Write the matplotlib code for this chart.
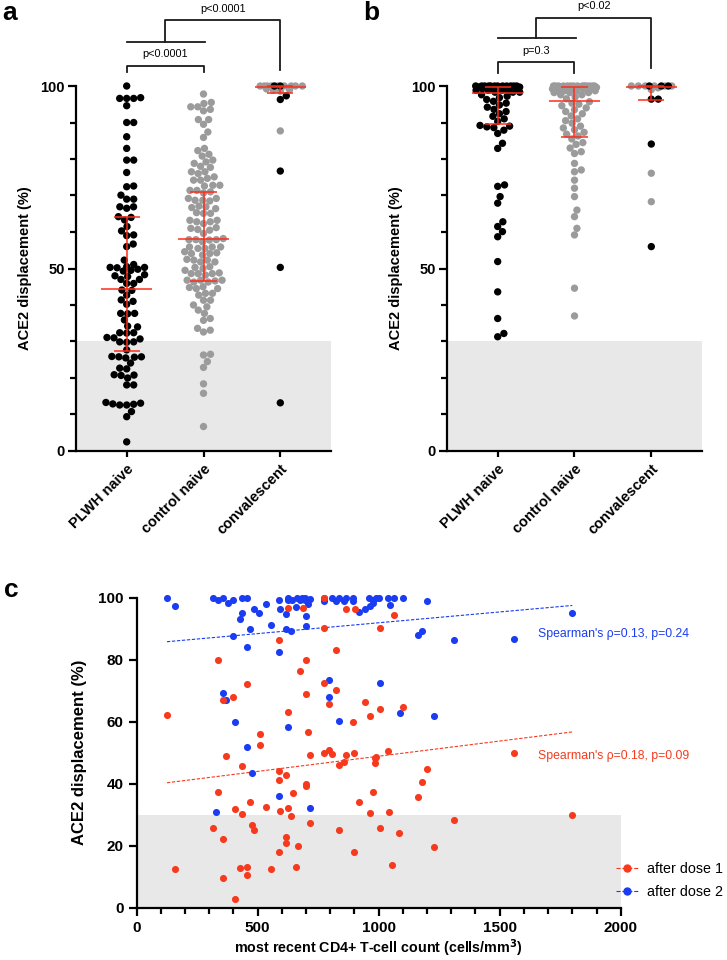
import numpy as np
import matplotlib
matplotlib.use('Agg')
import matplotlib.pyplot as plt
from matplotlib.lines import Line2D

plt.rcParams['font.family'] = ['Liberation Sans', 'DejaVu Sans']

# ---------------- data ----------------
categories = ['PLWH naive', 'control naive', 'convalescent']

# panel a (values in %)
plwh_a = [100, 96.6, 96.6, 96.6, 96.8, 94.6, 90.0, 90.0, 86.1, 82.9, 79.7, 79.7, 76.3, 72.4, 72.6,
          70.1, 69.0, 69.0, 66.9, 66.9, 66.5, 64.2, 64.0, 63.3, 61.5, 60.3, 59.2, 59.0, 56.7, 56.0,
          52.3, 51.1, 50.5, 50.3, 50.3, 50.2, 49.8, 49.5, 49.3, 48.3, 48.0, 47.8, 47.0, 47.0, 45.9,
          45.9, 44.1, 44.0, 42.7, 41.4, 41.0, 40.2, 37.7, 37.7, 37.6, 35.9, 34.2, 34.0, 32.4, 32.4,
          32.3, 31.1, 31.0, 30.7, 29.9, 29.9, 29.8, 27.7, 25.8, 25.5, 25.8, 25.9, 25.7, 24.1, 22.7,
          22.5, 20.8, 20.9, 20.7, 20.0, 18.1, 18.1, 12.9, 12.6, 12.6, 12.8, 13.1, 13.3, 10.8, 9.4, 2.5]
ctrl_a = [97.8, 95.5, 95.2, 94.3, 94.3, 93.2, 93.6, 90.8, 90.8, 89.5, 87.4, 85.9, 82.9, 82.3, 81.3,
          80.8, 79.2, 78.8, 79.7, 77.7, 78.0, 76.5, 76.0, 76.5, 74.7, 74.2, 75.1, 74.2, 72.8, 72.6,
          72.8, 71.0, 70.7, 71.4, 71.4, 68.7, 68.7, 69.2, 69.2, 68.5, 66.9, 66.7, 67.1, 66.4, 65.1,
          65.3, 65.1, 63.2, 62.8, 63.2, 62.8, 62.3, 61.0, 60.7, 61.2, 60.5, 59.6, 57.3, 58.2, 57.9,
          57.9, 57.8, 57.9, 55.9, 55.5, 55.9, 55.9, 55.5, 54.1, 54.3, 54.6, 54.1, 53.7, 52.3, 51.8,
          52.3, 52.5, 51.8, 50.5, 50.0, 50.3, 49.5, 48.6, 48.2, 48.6, 48.8, 48.6, 46.8, 46.6, 46.8,
          46.8, 46.3, 46.3, 45.0, 44.5, 44.8, 44.5, 43.2, 42.7, 43.2, 41.3, 41.3, 40.0, 39.5, 38.6,
          37.7, 36.3, 35.8, 33.6, 32.6, 33.1, 26.5, 26.3, 24.5, 22.9, 18.4, 15.8, 6.7]
conv_a_ctrl = [100.0, 100.0, 100.0, 100.0, 100.0, 100.0, 100.0, 100.0, 100.0, 99.2, 99.0, 98.8, 98.6, 87.7]
conv_a_plwh = [100.0, 100.0, 97.3, 96.3, 76.7, 50.3, 13.2]
# quartiles (Q1, median, Q3)
stats_a = [(27.4, 44.4, 64.2), (46.6, 58.2, 70.9), (98.0, 99.8, 100.0)]

# panel b
plwh_b = [100, 100, 100, 100, 100, 100, 100, 100, 100, 100, 100, 100,
          99.7, 99.7, 99.7, 99.7, 99.7, 99.7, 99.3, 99.3, 99.3, 99.3, 99.3,
          98.8, 98.8, 98.8, 98.8, 98.3, 98.3, 98.3,
          97.6, 97.2, 96.8, 96.3, 95.8, 95.3, 94.8, 94.2, 93.6, 93.0, 92.4, 91.7, 91.0, 90.3,
          89.2, 89.0, 88.8, 88.6, 87.9, 87.0, 84.3, 82.9, 72.9, 72.5, 69.7, 67.9, 62.8, 61.5,
          60.1, 58.7, 51.9, 43.6, 36.3, 32.2, 31.3]
ctrl_b = [100, 100, 100, 100, 100, 100, 100, 100, 100, 100, 100, 100, 100, 100,
          99.6, 99.6, 99.6, 99.6, 99.6, 99.6, 99.2, 99.2, 99.2, 99.2, 99.2,
          98.7, 98.7, 98.7, 98.7, 98.2, 98.2, 98.2, 97.6, 97.6, 97.0, 96.5,
          95.7, 95.3, 95.0, 94.6, 94.0, 93.5, 93.0, 92.4, 91.8, 91.0, 90.5, 89.8, 89.0, 88.5,
          88.0, 87.3, 86.8, 86.3,
          85.5, 84.5, 84.0, 83.0, 82.0, 81.5, 78.8, 77.0, 76.5, 74.2, 72.0, 69.7, 66.0, 64.2,
          61.0, 59.2, 44.6, 37.0]
conv_b_ctrl = [100, 100, 100, 100, 100, 100, 99.5, 99.0, 76.1, 68.3]
conv_b_plwh = [100, 100, 100, 96.4, 96.4, 84.1, 56.0]
stats_b = [(89.5, 98.0, 99.8), (85.9, 96.0, 99.6), (96.2, 99.8, 100.0)]

pvals_a = ['p<0.0001', 'p<0.0001']
pvals_b = ['p=0.3', 'p<0.02']

# panel c: CD4 count (cells/mm3) vs ACE2 displacement (%)
dose1_x = [126, 337, 357, 396, 457, 508, 508, 367, 587, 626, 626, 676, 687, 698, 698, 707, 717,
           776, 776, 776, 796, 824, 824, 865, 904, 893, 945, 966, 1005, 1005, 1065, 863, 896, 796,
           807, 776, 987, 1037, 1101, 1560,
           158, 316, 337, 357, 357, 408, 408, 426, 437, 437, 457, 457, 467, 477, 485, 536, 556, 587,
           587, 587, 591, 615, 615, 615, 626, 636, 646, 657, 666, 698, 698, 717, 835, 858, 835, 896,
           918, 966, 975, 986, 986, 1005, 1044, 1055, 1082, 1200, 1180, 1162, 1310, 1230, 1798]
dose1_y = [62.2, 79.9, 67.0, 68.1, 72.1, 56.1, 52.4, 48.8, 86.2, 96.8, 63.2, 76.2, 96.8, 79.9, 68.9,
           56.6, 49.3, 100.0, 90.2, 72.6, 65.7, 70.3, 83.0, 96.4, 96.4, 59.8, 66.3, 61.7, 64.1, 90.2,
           94.5, 49.3, 50.0, 50.8, 49.6, 49.8, 48.5, 50.4, 64.6, 50.0,
           12.5, 25.6, 37.4, 22.2, 9.5, 31.8, 2.7, 12.9, 30.1, 45.7, 13.2, 10.7, 34.1, 26.7, 25.1,
           32.4, 12.4, 44.0, 41.2, 18.1, 31.2, 42.9, 22.9, 20.8, 32.1, 29.6, 36.9, 13.2, 19.9, 39.9,
           39.4, 27.4, 46.0, 47.1, 25.1, 18.1, 34.2, 30.7, 37.4, 48.2, 46.8, 25.8, 31.0, 13.8, 24.2,
           44.6, 40.7, 35.8, 28.3, 19.7, 29.9]
dose2_x = [126, 158, 316, 337, 357, 378, 398, 437, 457, 426, 437, 396, 467, 457, 485, 505, 536, 556,
           587, 591, 615, 618, 636, 587, 626, 626, 643, 664, 673, 684, 695, 715, 694, 657, 698, 707,
           698, 776, 776, 808, 835, 865, 893, 824, 858, 893, 918, 945, 959, 975, 989, 1003, 966, 975,
           1037, 1046, 1065, 796, 796, 838, 1007, 626, 357, 367, 408, 457, 1101, 1200, 1800, 1162,
           1180, 1310, 1560, 1090, 1230, 477, 327, 587, 717]
dose2_y = [100, 97.4, 100, 99.1, 100, 98.2, 99.1, 100, 100, 93.1, 95.0, 87.5, 89.8, 84.0, 96.4, 95.0,
           98.0, 91.1, 99.1, 96.4, 94.8, 89.8, 89.4, 82.6, 100, 99.1, 99.1, 100, 99.1, 100, 99.1,
           99.6, 100, 97.1, 94.1, 98.0, 90.9, 100, 98.8, 100, 100, 100, 100, 98.8, 98.8, 98.8, 95.5,
           96.4, 100, 99.3, 100, 100, 97.4, 98.2, 100, 97.7, 100, 73.3, 68.1, 60.3, 72.6, 58.4, 69.2,
           67.0, 59.8, 51.7, 100, 98.8, 95.0, 88.0, 89.1, 86.4, 86.8, 62.7, 61.9, 43.6, 31.0, 36.0, 32.1]
fit_x = [125, 1800]
fit_dose1 = [40.3, 56.7]
fit_dose2 = [85.8, 97.5]
spearman_dose1 = "Spearman's \u03c1=0.18, p=0.09"
spearman_dose2 = "Spearman's \u03c1=0.13, p=0.24"
legend_labels = ['after dose 1', 'after dose 2']

# ---------------- style ----------------
RED = '#F73A1D'
BLUE = '#1A3CF2'
GREY = '#9B9B9B'
BAND = '#E8E8E8'
BAR = '#FF2D1A'
DOT_S = 28

fig = plt.figure(figsize=(7.27, 9.6), dpi=100)
W, H = 727.0, 960.0


def swarm_x(ax, xc, vals, d=7.0, maxw=22.0):
    vals = np.asarray(vals, float)
    pts = ax.transData.transform(np.column_stack([np.full(len(vals), xc), vals]))
    ys = pts[:, 1]
    x0 = pts[0, 0]
    order = np.argsort(ys, kind='stable')
    px, py = [], []
    offs = np.zeros(len(vals))
    for i in order:
        y = ys[i]
        PX, PY = np.array(px), np.array(py)
        cands = [0.0]
        if len(PX):
            dy = PY - y
            near = np.abs(dy) < d
            for xx, ddy in zip(PX[near], dy[near]):
                dx = np.sqrt(d * d - ddy * ddy)
                cands += [xx + dx, xx - dx]
        cands = np.array(cands)
        cands = cands[np.argsort(np.abs(cands), kind='stable')]
        chosen = None
        for c in cands:
            if abs(c) > maxw + 1e-9:
                continue
            if len(PX) == 0 or np.all((PX - c) ** 2 + (PY - y) ** 2 >= d * d - 1e-6):
                chosen = c
                break
        if chosen is None:
            grid = np.linspace(-maxw, maxw, 45)
            mind = [np.min((PX - g) ** 2 + (PY - y) ** 2) for g in grid]
            chosen = grid[int(np.argmax(mind))]
        px.append(chosen)
        py.append(y)
        offs[i] = chosen
    back = ax.transData.inverted().transform(np.column_stack([x0 + offs, ys]))
    return back[:, 0]


def style_ab(ax):
    ax.set_xlim(-0.66, 2.66)
    ax.set_ylim(0, 100)
    for s in ['top', 'right']:
        ax.spines[s].set_visible(False)
    for s in ['left', 'bottom']:
        ax.spines[s].set_linewidth(1.6)
    ax.axhspan(0, 30, color=BAND, zorder=0, lw=0)
    ax.set_yticks([0, 50, 100])
    ax.set_yticks(np.arange(0, 101, 10), minor=True)
    ax.tick_params(axis='y', which='major', length=6, width=1.6, labelsize=10.5, pad=2)
    ax.tick_params(axis='y', which='minor', length=4, width=1.6)
    ax.set_xticks([0, 1, 2])
    ax.set_xticklabels(categories, rotation=45, ha='right', rotation_mode='anchor',
                       fontweight='bold', fontsize=10.5)
    ax.tick_params(axis='x', length=4, width=1.6, pad=4)
    for t in ax.get_yticklabels():
        t.set_fontweight('bold')
    ax.set_ylabel('ACE2 displacement (%)', fontweight='bold', fontsize=10.5, labelpad=6)


def draw_bar(ax, x, st, hw_med=0.33, hw_cap=0.17):
    q1, med, q3 = st
    kw = dict(color=BAR, lw=1.1, zorder=5, clip_on=False, solid_capstyle='butt')
    ax.plot([x, x], [q1, q3], **kw)
    ax.plot([x - hw_med, x + hw_med], [med, med], **kw)
    ax.plot([x - hw_cap, x + hw_cap], [q1, q1], **kw)
    ax.plot([x - hw_cap, x + hw_cap], [q3, q3], **kw)


def draw_column(ax, xc, groups):
    vals = np.concatenate([np.asarray(v, float) for v, c in groups])
    cols = sum([[c] * len(v) for v, c in groups], [])
    xs = swarm_x(ax, xc, vals)
    ax.scatter(xs, vals, s=DOT_S, c=cols, lw=0, zorder=3, clip_on=False)


def brackets(ax, lo_y, grp_y, top_y, right_leg, texts, lo_text_y, top_text_y):
    kw = dict(color='#1a1a1a', lw=1.3, clip_on=False)
    ax.plot([0, 0, 1, 1], [lo_y[0], lo_y[1], lo_y[1], lo_y[0]], **kw)
    ax.plot([0, 1.02], [grp_y, grp_y], **kw)
    ax.plot([0.5, 0.5, 2, 2], [grp_y, top_y, top_y, right_leg], **kw)
    ax.text(0.5, lo_text_y, texts[0], ha='center', va='center', fontsize=7.8)
    ax.text(1.25, top_text_y, texts[1], ha='center', va='center', fontsize=7.8)


# ---------------- panel a ----------------
ax_a = fig.add_axes([76 / W, 1 - 451 / H, 255 / W, 365 / H])
style_ab(ax_a)
draw_column(ax_a, 0, [(plwh_a, 'black')])
draw_column(ax_a, 1, [(ctrl_a, GREY)])
draw_column(ax_a, 2, [(conv_a_ctrl, GREY), (conv_a_plwh, 'black')])
for i, st in enumerate(stats_a):
    draw_bar(ax_a, i, st)
brackets(ax_a, (103.8, 105.5), 112.1, 118.1, 104.4, pvals_a, 108.8, 121.0)

# ---------------- panel b ----------------
ax_b = fig.add_axes([447 / W, 1 - 451 / H, 255 / W, 365 / H])
style_ab(ax_b)
draw_column(ax_b, 0, [(plwh_b, 'black')])
draw_column(ax_b, 1, [(ctrl_b, GREY)])
draw_column(ax_b, 2, [(conv_b_ctrl, GREY), (conv_b_plwh, 'black')])
for i, st in enumerate(stats_b):
    draw_bar(ax_b, i, st)
brackets(ax_b, (103.5, 106.7), 113.2, 118.7, 104.8, pvals_b, 109.5, 121.8)

# ---------------- panel c ----------------
ax_c = fig.add_axes([136.7 / W, 1 - 907.7 / H, 484 / W, 310 / H])
ax_c.set_xlim(0, 2000)
ax_c.set_ylim(0, 100)
for s in ['top', 'right']:
    ax_c.spines[s].set_visible(False)
for s in ['left', 'bottom']:
    ax_c.spines[s].set_linewidth(1.6)
ax_c.axhspan(0, 30, color=BAND, zorder=0, lw=0)
ax_c.set_xticks(np.arange(0, 2001, 500))
ax_c.set_xticks(np.arange(0, 2001, 100), minor=True)
ax_c.set_yticks(np.arange(0, 101, 20))
ax_c.tick_params(axis='both', which='major', length=6, width=1.6, labelsize=11)
ax_c.tick_params(axis='x', which='minor', length=4, width=1.6)
for t in ax_c.get_xticklabels() + ax_c.get_yticklabels():
    t.set_fontweight('bold')
ax_c.set_ylabel('ACE2 displacement (%)', fontweight='bold', fontsize=12, labelpad=8)
ax_c.set_xlabel('most recent CD4+ T-cell count (cells/mm$^\\mathbf{3}$)', fontweight='bold',
                fontsize=10.3, labelpad=2)

ax_c.scatter(dose2_x, dose2_y, s=26, color=BLUE, lw=0, zorder=3, clip_on=False)
ax_c.scatter(dose1_x, dose1_y, s=26, color=RED, lw=0, zorder=4, clip_on=False)
ax_c.plot(fit_x, fit_dose2, color=BLUE, lw=0.8, ls=(0, (3, 1.5)), zorder=2)
ax_c.plot(fit_x, fit_dose1, color=RED, lw=0.8, ls=(0, (3, 1.5)), zorder=2)
ax_c.text(1658, 88.3, spearman_dose2, color=BLUE, fontsize=8.8, va='center', ha='left')
ax_c.text(1658, 49.0, spearman_dose1, color=RED, fontsize=8.8, va='center', ha='left')

handles = [Line2D([], [], color=RED, marker='o', ls='--', lw=0.8, markersize=5),
           Line2D([], [], color=BLUE, marker='o', ls='--', lw=0.8, markersize=5)]
ax_c.legend(handles, legend_labels, loc='center left', bbox_to_anchor=(0.99, 0.088),
            frameon=False, fontsize=10.3, handlelength=1.6, handletextpad=0.6,
            labelspacing=0.6, borderaxespad=0, borderpad=0)

# panel letters
fig.text(0.003, 1 - 20 / H, 'a', fontsize=19, fontweight='bold', va='baseline')
fig.text(0.499, 1 - 20 / H, 'b', fontsize=19, fontweight='bold', va='baseline')
fig.text(0.005, 1 - 597 / H, 'c', fontsize=19, fontweight='bold', va='baseline')

fig.savefig('out.png', dpi=100)
